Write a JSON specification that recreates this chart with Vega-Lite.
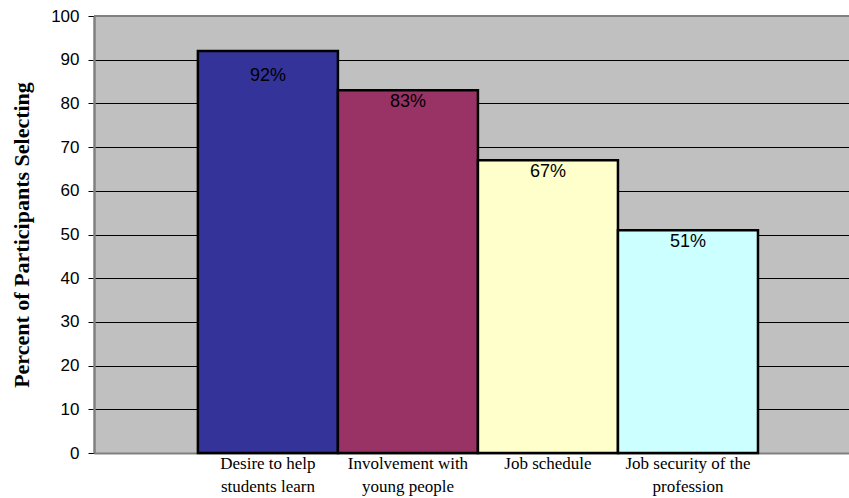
{
  "$schema": "https://vega.github.io/schema/vega-lite/v6.json",
  "autosize": "none",
  "width": 755,
  "height": 437,
  "padding": {"left": 94, "top": 16, "right": 0, "bottom": 45},
  "background": "white",
  "config": {
    "view": {"stroke": null, "fill": "#C0C0C0"}
  },
  "data": {
    "values": [
      {"reason": "Desire to help students learn", "pct": 92},
      {"reason": "Involvement with young people", "pct": 83},
      {"reason": "Job schedule", "pct": 67},
      {"reason": "Job security of the profession", "pct": 51}
    ]
  },
  "transform": [{"calculate": "datum.pct + '%'", "as": "label"}],
  "encoding": {
    "x": {
      "field": "reason",
      "type": "nominal",
      "sort": null,
      "scale": {"paddingInner": 0, "paddingOuter": 0.696, "align": 0.533},
      "axis": {
        "title": null,
        "labelAngle": 0,
        "ticks": false,
        "domainColor": "#808080",
        "domainWidth": 2,
        "labelFont": "Liberation Serif",
        "labelFontSize": 17,
        "labelColor": "black",
        "labelPadding": 2,
        "labelLineHeight": 23,
        "labelBaseline": "top",
        "labelExpr": "datum.value == 'Desire to help students learn' ? ['Desire to help', 'students learn'] : datum.value == 'Involvement with young people' ? ['Involvement with', 'young people'] : datum.value == 'Job security of the profession' ? ['Job security of the', 'profession'] : datum.value"
      }
    }
  },
  "layer": [
    {
      "mark": {"type": "rule", "color": "#808080", "strokeWidth": 2},
      "encoding": {"x": null, "y": {"datum": 100, "type": "quantitative"}}
    },
    {
      "mark": {"type": "bar", "stroke": "black", "strokeWidth": 2.5},
      "encoding": {
        "y": {
          "field": "pct",
          "type": "quantitative",
          "scale": {"domain": [0, 100]},
          "axis": {
            "title": "Percent of Participants Selecting",
            "titleFont": "Liberation Serif",
            "titleFontWeight": "bold",
            "titleFontSize": 22,
            "titleColor": "black",
            "titlePadding": 17,
            "values": [0, 10, 20, 30, 40, 50, 60, 70, 80, 90, 100],
            "grid": true,
            "gridColor": "black",
            "gridWidth": 1,
            "gridOpacity": 1,
            "domainColor": "#808080",
            "domainWidth": 2.5,
            "tickColor": "black",
            "tickSize": 6,
            "labelFont": "Liberation Sans",
            "labelFontSize": 17,
            "labelColor": "black",
            "labelPadding": 9
          }
        },
        "color": {
          "field": "reason",
          "type": "nominal",
          "legend": null,
          "scale": {
            "domain": ["Desire to help students learn", "Involvement with young people", "Job schedule", "Job security of the profession"],
            "range": ["#333399", "#993366", "#FFFFCC", "#CCFFFF"]
          }
        }
      }
    },
    {
      "transform": [{"filter": "datum.pct <= 90"}],
      "mark": {"type": "text", "baseline": "middle", "align": "center", "dy": 12, "font": "Liberation Sans", "fontSize": 18, "color": "black"},
      "encoding": {
        "y": {"field": "pct", "type": "quantitative"},
        "text": {"field": "label"}
      }
    },
    {
      "transform": [{"filter": "datum.pct > 90"}],
      "mark": {"type": "text", "baseline": "middle", "align": "center", "dy": 25, "font": "Liberation Sans", "fontSize": 18, "color": "black"},
      "encoding": {
        "y": {"field": "pct", "type": "quantitative"},
        "text": {"field": "label"}
      }
    }
  ]
}
